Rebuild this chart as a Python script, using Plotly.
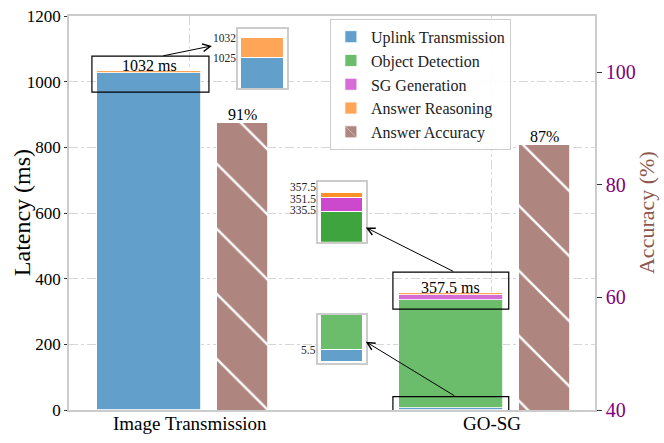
import numpy as np
import plotly.graph_objects as go

# ---------------- data ----------------
categories = ["Image Transmission", "GO-SG"]
stage_names = ["Uplink Transmission", "Object Detection", "SG Generation", "Answer Reasoning"]
uplink = [1025, 5.5]
object_detection = [0, 330]
sg_generation = [0, 16]
answer_reasoning = [7, 6]
accuracy = [91, 87]
accuracy_name = "Answer Accuracy"
left_ticks = [0, 200, 400, 600, 800, 1000, 1200]
right_ticks = [40, 60, 80, 100]

# ---------------- style ----------------
FONT = "Liberation Serif"
stage_colors = ["rgb(98,160,203)", "rgb(107,188,107)", "rgb(214,108,214)", "rgb(255,165,88)"]
inset2_colors = ["rgb(60,130,190)", "rgb(62,164,62)", "rgb(204,72,204)", "rgb(255,145,40)"]
acc_color = "rgb(174,134,127)"
SPINE = "#cccccc"
GRID = "#d6d6d6"

LAT_OFF, LAT_W = -0.135, 0.345
ACC_OFF, ACC_W = 0.175, 0.17

stages = [uplink, object_detection, sg_generation, answer_reasoning]
cum = np.cumsum(np.array(stages, dtype=float), axis=0)
totals = cum[-1]

xs = np.arange(len(categories))
lat_x = xs + LAT_OFF
acc_x = xs + ACC_OFF

fig = go.Figure()

# main stacked latency bars
for name, vals, col in zip(stage_names, stages, stage_colors):
    fig.add_trace(go.Bar(
        x=lat_x, y=[v if v else None for v in vals], width=LAT_W, name=name,
        marker=dict(color=col, line=dict(color="white", width=0.8)),
        legendgroup=name, xaxis="x", yaxis="y"))

# accuracy bars
fig.add_trace(go.Bar(
    x=acc_x, y=accuracy, width=ACC_W, name=accuracy_name, legendgroup=accuracy_name,
    marker=dict(color=acc_color, line=dict(color="white", width=0.8),
                pattern=dict(shape="\\", fgcolor="white", bgcolor=acc_color,
                             size=46, solidity=0.05, fillmode="replace")),
    xaxis="x", yaxis="y2"))

# inset bars
insets = [
    dict(ax="3", cat=0, colors=stage_colors, yr=[1015, 1035],
         ticks=[cum[3][0], cum[0][0]], shifts=[0, 0],
         dom_x=[0.3213, 0.4144], dom_y=[0.8173, 0.967]),
    dict(ax="4", cat=1, colors=inset2_colors, yr=[300, 370],
         ticks=[cum[3][1], cum[2][1], cum[1][1]], shifts=[5, -1, 1],
         dom_x=[0.4734, 0.5646], dom_y=[0.4272, 0.5794]),
    dict(ax="5", cat=1, colors=stage_colors, yr=[-0.5, 21],
         ticks=[cum[0][1]], shifts=[0],
         dom_x=[0.4734, 0.5646], dom_y=[0.1185, 0.2411]),
]
for ins in insets:
    for name, vals, col in zip(stage_names, stages, ins["colors"]):
        v = vals[ins["cat"]]
        fig.add_trace(go.Bar(
            x=[0], y=[v if v else None], width=1, showlegend=False,
            marker=dict(color=col, line=dict(color="white", width=1)),
            xaxis="x" + ins["ax"], yaxis="y" + ins["ax"], hoverinfo="skip"))

def fmt(v):
    return f"{v:g}"

annotations = []
layout_axes = {}
for ins in insets:
    a = ins["ax"]
    layout_axes["xaxis" + a] = dict(domain=ins["dom_x"], anchor="y" + a, range=[-0.56, 0.56],
                                    showticklabels=False, ticks="", showgrid=False, zeroline=False,
                                    showline=True, mirror=True, linecolor=SPINE, linewidth=1.5,
                                    automargin=False)
    layout_axes["yaxis" + a] = dict(domain=ins["dom_y"], anchor="x" + a, range=ins["yr"],
                                    showticklabels=False, ticks="", showgrid=False, zeroline=False,
                                    showline=True, mirror=True, linecolor=SPINE, linewidth=1.5,
                                    automargin=False)
    for t, s in zip(ins["ticks"], ins["shifts"]):
        annotations.append(dict(x=0, xref=f"x{a} domain", y=t, yref="y" + a, text=fmt(t),
                                showarrow=False, xanchor="right", yanchor="middle", xshift=-1, yshift=s,
                                borderpad=0,
                                font=dict(family=FONT, size=11.5, color="#222")))

# boxes around totals
box_top = [1078, 420]
box_bot = [968, 307.5]
box_x = [(-0.325, 0.063), (0.673, 1.057)]
shapes = []
for i in range(2):
    shapes.append(dict(type="rect", xref="x", yref="y", x0=box_x[i][0], x1=box_x[i][1],
                       y0=box_bot[i], y1=box_top[i], line=dict(color="black", width=1.2),
                       fillcolor="rgba(0,0,0,0)"))
low_box_top = 40.5
shapes.append(dict(type="path", xref="x", yref="y",
                   path=f"M{box_x[1][0]},0 L{box_x[1][0]},{low_box_top} L{box_x[1][1]},{low_box_top} L{box_x[1][1]},0",
                   line=dict(color="black", width=1.2)))

# total labels
for i in range(2):
    annotations.append(dict(x=lat_x[i], y=totals[i], xref="x", yref="y", text=f"{fmt(totals[i])} ms",
                            showarrow=False, yanchor="bottom", yshift=-5,
                            font=dict(family=FONT, size=16, color="black")))
# accuracy labels
for i in range(2):
    annotations.append(dict(x=acc_x[i], y=accuracy[i], xref="x", yref="y2", text=f"{accuracy[i]}%",
                            showarrow=False, yanchor="bottom", yshift=-2,
                            font=dict(family=FONT, size=16, color="black")))
# category labels
for i in range(2):
    annotations.append(dict(x=xs[i], y=0, xref="x", yref="paper", text=categories[i],
                            showarrow=False, yanchor="middle", yshift=-13,
                            font=dict(family=FONT, size=19, color="black")))
# arrows (tail -> tip)
arrows = [((-0.093, 1078), (0.073, 1109)),
          ((0.878, 420), (0.583, 556)),
          ((0.882, 40.5), (0.583, 208))]
for (tx, ty), (hx, hy) in arrows:
    annotations.append(dict(x=hx, y=hy, ax=tx, ay=ty, xref="x", yref="y", axref="x", ayref="y",
                            text="", showarrow=True, arrowhead=5, arrowsize=1.5, arrowwidth=1,
                            arrowcolor="black"))
# axis titles
annotations.append(dict(x=-0.089, y=0.5, xref="paper", yref="paper", text="Latency (ms)", textangle=-90,
                        showarrow=False, xanchor="center", yanchor="middle",
                        font=dict(family=FONT, size=24, color="black")))
annotations.append(dict(x=1.097, y=0.5, xref="paper", yref="paper", text="Accuracy (%)", textangle=-90,
                        showarrow=False, xanchor="center", yanchor="middle",
                        font=dict(family=FONT, size=22, color="#8c564b")))

fig.update_layout(
    width=664, height=443,
    margin=dict(l=69, r=69, t=16, b=33, autoexpand=False),
    paper_bgcolor="white", plot_bgcolor="white",
    barmode="stack", bargap=0,
    font=dict(family=FONT, color="black"),
    showlegend=True,
    legend=dict(x=0.496, y=0.993, xanchor="left", yanchor="top",
                bgcolor="rgba(255,255,255,0.9)", bordercolor=SPINE, borderwidth=1,
                font=dict(family=FONT, size=16, color="#222"), tracegroupgap=3,
                traceorder="normal"),
    xaxis=dict(range=[-0.401, 1.343], tickvals=list(xs), showticklabels=False,
               showgrid=True, gridcolor=GRID, griddash="dashdot", gridwidth=1,
               showline=True, mirror=True, linecolor=SPINE, linewidth=1.5,
               ticks="", zeroline=False, automargin=False),
    yaxis=dict(range=[0, 1200], tickvals=left_ticks,
               tickfont=dict(family=FONT, size=17, color="black"),
               showgrid=True, gridcolor=GRID, griddash="dashdot", gridwidth=1,
               showline=True, linecolor=SPINE, linewidth=1.5,
               ticks="outside", ticklen=3, tickcolor="#333", zeroline=False, automargin=False),
    yaxis2=dict(range=[40, 110], tickvals=right_ticks, overlaying="y", side="right",
                tickfont=dict(family=FONT, size=20, color="purple"),
                showgrid=False, showline=True, linecolor=SPINE, linewidth=1.5,
                ticks="outside", ticklen=5, tickcolor="#333", zeroline=False, automargin=False),
    shapes=shapes, annotations=annotations,
    **layout_axes,
)

fig.write_html("out.html", config={"displayModeBar": False},
               post_script="document.body.style.margin='0';document.body.style.overflow='hidden';")
